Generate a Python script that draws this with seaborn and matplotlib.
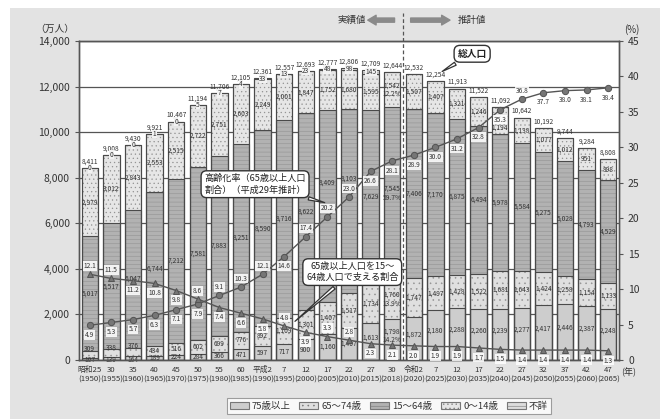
import numpy as np
import matplotlib.pyplot as plt
import matplotlib.patches as mpatches
import seaborn as sns

# 高齢化の推移と将来推計 (万人)
years = [1950, 1955, 1960, 1965, 1970, 1975, 1980, 1985, 1990, 1995, 2000, 2005,
         2010, 2015, 2018, 2020, 2025, 2030, 2035, 2040, 2045, 2050, 2055, 2060, 2065]
era = ['昭和25', '30', '35', '40', '45', '50', '55', '60', '平成2', '7', '12', '17',
       '22', '27', '30', '令和2', '7', '12', '17', '22', '27', '32', '37', '42', '47']
total = [8411, 9008, 9430, 9921, 10467, 11194, 11706, 12105, 12361, 12557, 12693, 12777,
         12806, 12709, 12644, 12532, 12254, 11913, 11522, 11092, 10642, 10192, 9744, 9284, 8808]
age_0_14 = [2979, 3012, 2843, 2553, 2515, 2722, 2751, 2603, 2249, 2001, 1847, 1752,
            1680, 1595, 1542, 1507, 1407, 1321, 1246, 1194, 1138, 1077, 1012, 951, 898]
age_15_64 = [5017, 5517, 6047, 6744, 7212, 7581, 7883, 8251, 8590, 8716, 8622, 8409,
             8103, 7629, 7545, 7406, 7170, 6875, 6494, 5978, 5584, 5275, 5028, 4793, 4529]
age_65_74 = [309, 338, 376, 434, 516, 602, 699, 776, 892, 1109, 1301, 1407,
             1517, 1734, 1760, 1747, 1497, 1428, 1522, 1681, 1643, 1424, 1258, 1154, 1133]
age_75_over = [107, 139, 164, 189, 224, 284, 366, 471, 597, 717, 900, 1160,
               1407, 1613, 1798, 1872, 2180, 2288, 2260, 2239, 2277, 2417, 2446, 2387, 2248]
unknown = [0, 0, 0, 1, 0, 5, 7, 4, 33, 13, 23, 48, 98, 145,
           0, 0, 0, 0, 0, 0, 0, 0, 0, 0, 0]
share_2018 = ['12.2%', '59.7%', '13.9%', '14.2%']
aging_rate = [4.9, 5.3, 5.7, 6.3, 7.1, 7.9, 9.1, 10.3, 12.1, 14.6, 17.4, 20.2,
              23.0, 26.6, 28.1, 28.9, 30.0, 31.2, 32.8, 35.3, 36.8, 37.7, 38.0, 38.1, 38.4]
support_ratio = [12.1, 11.5, 11.2, 10.8, 9.8, 8.6, 7.4, 6.6, 5.8, 4.8, 3.9, 3.3,
                 2.8, 2.3, 2.1, 2.0, 1.9, 1.9, 1.7, 1.5, 1.4, 1.4, 1.4, 1.4, 1.3]
legend_labels = ['75歳以上', '65～74歳', '15～64歳', '0～14歳', '不詳']

sns.set_style('white')
plt.rcParams['font.family'] = ['Noto Sans CJK JP', 'DejaVu Sans']
plt.rcParams['hatch.linewidth'] = 0.4

# stacked tops
c1 = np.array(age_75_over)
c2 = c1 + np.array(age_65_74)
c3 = c2 + np.array(age_15_64)
c4 = c3 + np.array(age_0_14)
c5 = c4 + np.array(unknown)

fig = plt.figure(figsize=(6.6, 4.19), dpi=100)
fig.patch.set_facecolor('white')
fig.patches.append(mpatches.Rectangle((0.015, 0), 0.985, 0.981, transform=fig.transFigure,
                                      facecolor='#e3e3e3', edgecolor='none', zorder=-1))
ax = fig.add_axes([0.1197, 0.1408, 0.8182, 0.7613])
ax.set_facecolor('white')

hatch_col = '#939393'
styles = [('#dcdcdc', '----'), ('#e6e6e6', '....'), ('#b2b2b2', '----'),
          ('#dfdfdf', '...'), ('#cdcdcd', '')]
tops = [c5, c4, c3, c2, c1]
bw = 0.76
for h, (fc, hatch) in zip(tops, styles):
    sns.barplot(x=years, y=h, color=fc, saturation=1, width=bw, hatch=hatch,
                edgecolor=hatch_col, linewidth=0, errorbar=None, ax=ax)
for h in tops:
    sns.barplot(x=years, y=h, fill=False, color='#4a4a4a', saturation=1, width=bw,
                linewidth=0.8, errorbar=None, ax=ax)

ax.set_ylim(0, 14000)
ax.set_xlim(-0.5, len(years) - 0.5)
ax.set_yticks(range(0, 14001, 2000))
ax.set_yticklabels([f'{v:,}' for v in range(0, 14001, 2000)], fontsize=7.5, color='#333333')
ax.yaxis.grid(True, color='#555555', linewidth=0.9)
ax.set_axisbelow(True)
ax.set_xticks(range(len(years)))
ax.set_xticklabels([f'{e}\n({y})' for e, y in zip(era, years)], fontsize=5.6,
                   color='#333333', linespacing=1.3)
ax.tick_params(axis='x', length=0, pad=4)
ax.tick_params(axis='y', length=3, color='#555555')
for s in ax.spines.values():
    s.set_color('#555555')
    s.set_linewidth(1.0)

# bar value labels
fs = 4.8
tc = '#333333'
x = np.arange(len(years))
for i in x:
    ax.text(i, c5[i] + 110, f'{total[i]:,}', ha='center', va='bottom', fontsize=fs, color=tc)
    if years[i] < 2018:
        ax.text(i, c5[i] - unknown[i] / 2, f'{unknown[i]}', ha='center', va='center',
                fontsize=fs, color=tc,
                bbox=dict(boxstyle='square,pad=0.05', fc='#f2f2f2', ec='none'))
    up = 1000 if years[i] in (2005, 2010) else 0
    lift = 180 if years[i] >= 2015 else 0
    drop = 280 if years[i] == 2040 else 0
    m0 = (c3[i] + c4[i]) / 2 - drop
    m1 = (c2[i] + c3[i]) / 2 + up
    m2 = (c1[i] + c2[i]) / 2
    m3 = c1[i] / 2 + lift
    if c2[i] < 600:
        # thin segments: spread the two small labels apart
        m2 = c2[i] + 60
        m3 = c1[i] / 2 - 70
    if years[i] == 2018:
        for m, v, p in zip([m0, m1, m2, m3], [age_0_14[i], age_15_64[i], age_65_74[i], age_75_over[i]], share_2018):
            ax.text(i, m + 170, f'{v:,}', ha='center', va='center', fontsize=fs, color=tc)
            ax.text(i, m - 200, p, ha='center', va='center', fontsize=fs, color=tc)
    else:
        ax.text(i, m0, f'{age_0_14[i]:,}', ha='center', va='center', fontsize=fs, color=tc)
        ax.text(i, m1, f'{age_15_64[i]:,}', ha='center', va='center', fontsize=fs, color=tc)
        ax.text(i, m2, f'{age_65_74[i]:,}', ha='center', va='center', fontsize=fs, color=tc)
        ax.text(i, m3, f'{age_75_over[i]:,}', ha='center', va='center', fontsize=fs, color=tc,
                clip_on=False)

# dashed split between actual and projected
ax.axvline(14.5, ymin=0, ymax=1.088, color='#555555', linestyle=(0, (3, 2)),
           linewidth=0.9, clip_on=False, zorder=5)

# rates on the right axis
ax2 = ax.twinx()
ax2.patch.set_visible(False)
line_col = '#555555'
sns.lineplot(x=x, y=aging_rate, ax=ax2, color=line_col, linewidth=1.0, marker='o',
             markersize=4.5, markerfacecolor='#767676', markeredgecolor=line_col)
sns.lineplot(x=x, y=support_ratio, ax=ax2, color=line_col, linewidth=1.0, marker='^',
             markersize=4.5, markerfacecolor='#767676', markeredgecolor=line_col)
ax2.set_ylim(0, 45)
ax2.set_xlim(-0.5, len(years) - 0.5)
ax2.set_yticks(range(0, 46, 5))
ax2.set_yticklabels([str(v) for v in range(0, 46, 5)], fontsize=7.5, color='#333333')
ax2.tick_params(axis='y', length=3, color='#555555')
for s in ax2.spines.values():
    s.set_color('#555555')
    s.set_linewidth(1.0)

lbl_box = dict(boxstyle='square,pad=0.12', fc='white', ec='none', alpha=0.85)
aging_above = {6, 7, 8, 10, 11, 12, 20}
for i, v in enumerate(aging_rate):
    dy = 6 if i in aging_above else -7
    ax2.annotate(f'{v:.1f}', (i, v), xytext=(0, dy), textcoords='offset points',
                 ha='center', va='center', fontsize=fs, color=tc, bbox=lbl_box)
support_above = {0, 1, 5, 9, 11, 12}
for i, v in enumerate(support_ratio):
    dy = 6 if i in support_above else -7
    ax2.annotate(f'{v:.1f}', (i, v), xytext=(0, dy), textcoords='offset points',
                 ha='center', va='center', fontsize=fs, color=tc, bbox=lbl_box)

# callouts
bub = dict(boxstyle='round,pad=0.35,rounding_size=0.6', fc='white', ec='#333333', lw=1.0)
tail = dict(arrowstyle='wedge,tail_width=0.35,shrink_factor=0.5', fc='white', ec='#333333', lw=0.9)
ax2.annotate('総人口', xy=(16.2, 40.5), xytext=(17.7, 43.2), ha='center', va='center',
             fontsize=7, fontweight='bold', color='#222222', bbox=bub, arrowprops=tail, zorder=6)
ax2.annotate('高齢化率（65歳以上人口\n割合）（平成29年推計）', xy=(11.0, 22.1), xytext=(7.65, 24.8),
             ha='center', va='center', fontsize=6.6, color='#222222', linespacing=1.3,
             bbox=bub, arrowprops=tail, zorder=6)
ax2.annotate('65歳以上人口を15～\n64歳人口で支える割合', xy=(9.4, 5.2), xytext=(12.15, 12.4),
             ha='center', va='center', fontsize=6.6, color='#222222', linespacing=1.3,
             bbox=bub, arrowprops=tail, zorder=6)

# header
fig.text(0.533, 0.952, '実績値', ha='center', va='center', fontsize=6.8, color='#333333')
fig.text(0.715, 0.952, '推計値', ha='center', va='center', fontsize=6.8, color='#333333')
arr = dict(arrowstyle='simple,head_width=0.7,head_length=0.6,tail_width=0.3', color='#8a8a8a')
ax2.annotate('', xy=(0.553, 0.952), xytext=(0.602, 0.952), xycoords='figure fraction',
             textcoords='figure fraction', arrowprops=arr)
ax2.annotate('', xy=(0.686, 0.952), xytext=(0.618, 0.952), xycoords='figure fraction',
             textcoords='figure fraction', arrowprops=arr)
fig.text(0.083, 0.93, '（万人）', ha='center', va='center', fontsize=7, color='#333333')
fig.text(0.957, 0.93, '(%)', ha='center', va='center', fontsize=7, color='#333333')
fig.text(0.952, 0.112, '(年)', ha='center', va='center', fontsize=6.5, color='#333333')

# legend
handles = [mpatches.Patch(facecolor=fc, hatch=hatch, edgecolor='#777777', linewidth=0.8)
           for fc, hatch in reversed(styles)]
leg = fig.legend(handles, legend_labels, loc='center', bbox_to_anchor=(0.589, 0.031),
                 ncol=5, fontsize=6.8, frameon=True, fancybox=False, edgecolor='#888888',
                 handlelength=2.0, handleheight=0.9, columnspacing=0.9, handletextpad=0.35,
                 borderpad=0.3)
leg.get_frame().set_facecolor('white')
leg.get_frame().set_linewidth(0.8)
for t in leg.get_texts():
    t.set_color('#333333')

fig.savefig('out.png', dpi=100)
